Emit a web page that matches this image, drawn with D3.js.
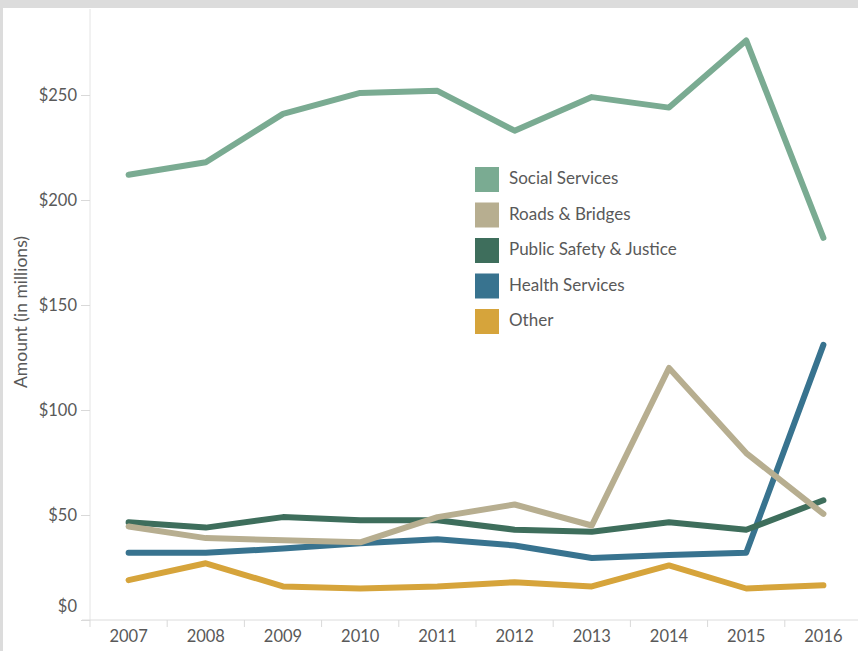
<!DOCTYPE html>
<html>
<head>
<meta charset="utf-8">
<script src="https://cdn.jsdelivr.net/npm/d3@7/dist/d3.min.js"></script>
<style>
  html, body { margin: 0; padding: 0; background: #fff; }
  svg { display: block; }
  text { font-family: Lato, "Open Sans", sans-serif; fill: #595959; }
</style>
</head>
<body>
<svg id="chart" width="858" height="651"></svg>
<script>
// Annual spending by category, in millions of dollars
const years = ["2007", "2008", "2009", "2010", "2011", "2012", "2013", "2014", "2015", "2016"];
const socialServices   = [212, 218, 241, 251, 252, 233, 249, 244, 276, 182];
const roadsBridges     = [44.5, 39, 38, 37, 49, 55, 45, 120, 79.5, 50.5];
const publicSafety     = [46.5, 44, 49, 47.5, 47.5, 43, 42, 46.5, 43, 57];
const healthServices   = [32, 32, 34, 36.5, 38.5, 35.5, 29.5, 31, 32, 131];
const otherSpending    = [19, 27, 16, 15, 16, 18, 16, 26, 15, 16.5];
const seriesNames  = ["Social Services", "Roads & Bridges", "Public Safety & Justice", "Health Services", "Other"];
const seriesColors = ["#7aab92", "#b7ae90", "#3e6e5c", "#38738f", "#d6a43b"];
const yTicks = [0, 50, 100, 150, 200, 250];

const seriesValues = [socialServices, roadsBridges, publicSafety, healthServices, otherSpending];
const series = seriesNames.map((name, i) => ({
  name, color: seriesColors[i],
  values: years.map((y, j) => ({ year: y, value: seriesValues[i][j] }))
}));

const svg = d3.select("#chart");
const W = 858, H = 651;
const plot = { left: 90, right: 862, top: 9, bottom: 620 };

// frame
svg.append("rect").attr("x", 0).attr("y", 0).attr("width", W).attr("height", 8).attr("fill", "#dcdcdc");
svg.append("rect").attr("x", 0).attr("y", 0).attr("width", 3).attr("height", H).attr("fill", "#dcdcdc");

const x = d3.scaleBand().domain(years).range([plot.left, plot.right]).padding(0);
const y = d3.scaleLinear().domain([0, (plot.bottom - plot.top) / 2.1]).range([plot.bottom, plot.top]);

// y axis
const yAxis = svg.append("g").attr("transform", `translate(${plot.left},0)`)
  .call(d3.axisLeft(y).tickValues(yTicks).tickFormat(d => "$" + d).tickSize(9).tickPadding(4));
yAxis.select(".domain").attr("stroke", "#e4e4e4").attr("d", `M0,${plot.top}V${plot.bottom}`);
yAxis.selectAll(".tick line").attr("stroke", "#d9d9d9");
yAxis.selectAll(".tick text").attr("font-size", 16.5).attr("fill", "#595959")
  .attr("font-family", "Lato, sans-serif")
  .attr("dy", d => d === 0 ? "-0.5em" : "0.32em");

// x axis
const xAxis = svg.append("g").attr("transform", `translate(0,${plot.bottom})`)
  .call(d3.axisBottom(x).tickSize(0).tickPadding(10));
xAxis.select(".domain").attr("stroke", "#dcdcdc").attr("d", `M${plot.left - 8},0H${W}`);
xAxis.selectAll(".tick text").attr("font-size", 16.5).attr("fill", "#595959")
  .attr("font-family", "Lato, sans-serif");
// band boundary ticks
xAxis.selectAll(".bound").data(years).enter().append("line")
  .attr("class", "bound")
  .attr("x1", d => x(d)).attr("x2", d => x(d))
  .attr("y1", 0).attr("y2", 7)
  .attr("stroke", "#d9d9d9");

// y axis title
svg.append("text")
  .attr("transform", "translate(23,312) rotate(-90)")
  .attr("text-anchor", "middle").attr("dominant-baseline", "middle")
  .attr("font-size", 17.5).text("Amount (in millions)");

// lines
const line = d3.line()
  .x(d => x(d.year) + x.bandwidth() / 2)
  .y(d => y(d.value));

svg.append("defs").append("clipPath").attr("id", "clip")
  .append("rect").attr("x", plot.left).attr("y", plot.top).attr("width", W - plot.left).attr("height", plot.bottom - plot.top);

svg.append("g").attr("clip-path", "url(#clip)")
  .selectAll("path").data(series.slice().reverse()).enter().append("path")
  .attr("d", d => line(d.values))
  .attr("fill", "none")
  .attr("stroke", d => d.color)
  .attr("stroke-width", 6)
  .attr("stroke-linecap", "round")
  .attr("stroke-linejoin", "round");

// legend
const legend = svg.append("g").attr("transform", "translate(475,167)");
const item = legend.selectAll("g").data(series).enter().append("g")
  .attr("transform", (d, i) => `translate(0,${i * 35.5})`);
item.append("rect").attr("width", 24).attr("height", 25).attr("fill", d => d.color);
item.append("text").attr("x", 34).attr("y", 13).attr("dominant-baseline", "middle")
  .attr("font-size", 17).text(d => d.name);
</script>
</body>
</html>
